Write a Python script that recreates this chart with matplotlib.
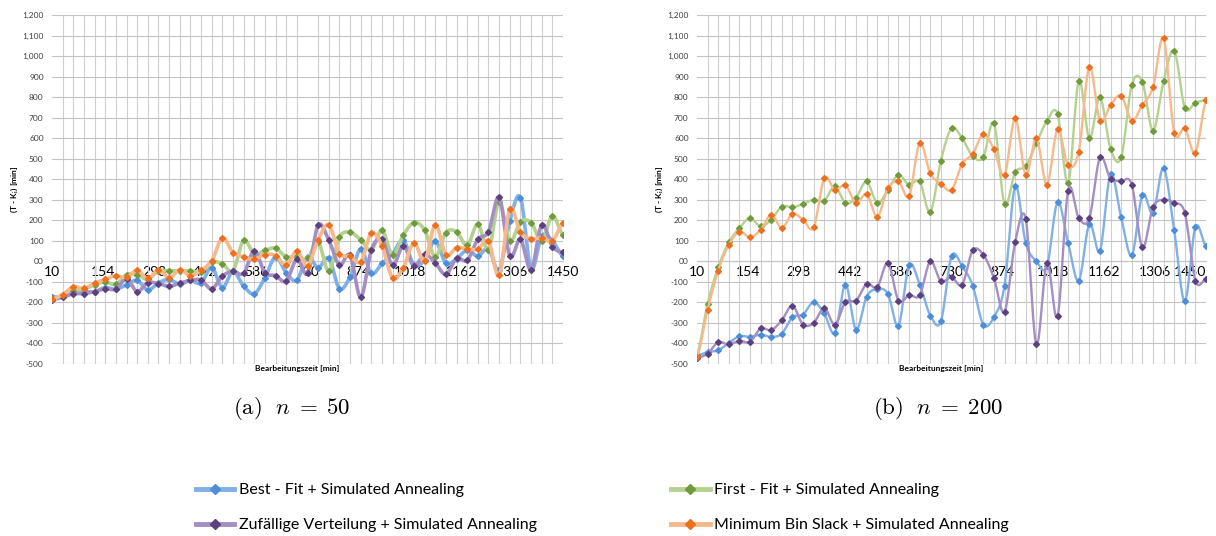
import numpy as np
import matplotlib.pyplot as plt
from matplotlib.lines import Line2D

plt.rcParams['font.family'] = ['Lato', 'DejaVu Sans']
plt.rcParams['mathtext.fontset'] = 'cm'

# processing time axis (categories) and tick labels
x_vals = np.arange(10, 1451, 30)
x_ticks = [10, 154, 298, 442, 586, 730, 874, 1018, 1162, 1306, 1450]
y_ticks = list(range(-500, 1201, 100))
y_tick_labels = ['-500', '-400', '-300', '-200', '-100', '00', '100', '200', '300',
                 '400', '500', '600', '700', '800', '900', '1,000', '1,100', '1,200']

names = ['Best - Fit + Simulated Annealing',
         'First - Fit + Simulated Annealing',
         'Zufällige Verteilung + Simulated Annealing',
         'Minimum Bin Slack + Simulated Annealing']
line_colors = ['#7FB0E6', '#B4D28E', '#A48EC3', '#F8B98A']
marker_colors = ['#4C8ED8', '#6F9B3C', '#5C4080', '#EC7020']

# n = 50
blue50 = [-175, -170, -150, -148, -148, -128, -136, -114, -93, -140,
          -105, -88, -112, -93, -106, -30, -128, -49, -121, -158,
          -80, 22, -56, -92, 23, -30, 15, -133, -75, 60,
          -59, -10, 38, 103, -18, 8, 100, -10, 13, 54,
          25, 62, -44, 195, 311, -37, 125, 100, 25]
green50 = [-180, -165, -142, -137, -113, -100, -112, -65, -65, -88,
           -46, -46, -47, -46, -52, -3, -12, -45, 102, 35,
           53, 64, 22, 25, 15, 95, -48, 118, 141, 105,
           55, 152, 30, 128, 189, 152, 22, 140, 144, 78,
           181, 57, 290, 99, 193, 189, 99, 221, 128]
purple50 = [-186, -175, -158, -157, -147, -134, -135, -85, -147, -104,
            -108, -122, -106, -93, -91, -134, -72, -48, -59, 52,
            -55, -70, -96, 10, -57, 176, 103, -18, 30, -175,
            55, 107, -19, 75, -23, 34, -8, -64, 15, 5,
            107, 145, 312, 26, 107, -41, 178, 72, 44]
orange50 = [-185, -162, -124, -132, -106, -88, -70, -78, -43, -83,
            -42, -80, -42, -69, -43, 1, 114, 43, 22, 10,
            33, 28, -20, 50, -22, 105, 178, 38, 26, -2,
            138, 75, -82, -30, 90, 0, 178, 32, 67, 60,
            60, 97, -68, 255, 142, 110, 115, 100, 187]

# n = 200
blue200 = [-459, -442, -433, -397, -365, -368, -357, -368, -352, -272,
           -259, -199, -254, -348, -113, -332, -172, -135, -158, -313,
           -19, -113, -264, -292, 24, -24, -118, -308, -272, -118,
           365, 89, 0, -24, 288, 89, -94, 182, 52, 426,
           214, 29, 324, 235, 454, 151, -194, 167, 73]
green200 = [-454, -206, -29, 92, 162, 211, 170, 203, 267, 263,
            280, 300, 295, 365, 284, 311, 389, 284, 348, 421,
            373, 389, 240, 491, 648, 600, 511, 507, 673, 280,
            433, 465, 575, 684, 718, 381, 878, 600, 799, 548,
            507, 859, 875, 637, 878, 1026, 749, 773, 786]
purple200 = [-470, -449, -394, -405, -387, -392, -327, -335, -287, -216,
             -308, -300, -227, -308, -198, -191, -110, -126, -8, -191,
             -164, -165, 0, -97, -76, -113, 53, 32, -81, -246,
             92, 206, -405, -8, -267, 345, 211, 211, 506, 402,
             392, 373, 68, 264, 300, 284, 235, -94, -86]
orange200 = [-465, -235, -45, 81, 144, 117, 154, 227, 162, 232,
             203, 165, 405, 348, 370, 284, 327, 217, 357, 389,
             319, 575, 429, 378, 348, 475, 523, 619, 546, 421,
             697, 421, 600, 373, 643, 467, 535, 948, 684, 762,
             806, 686, 762, 848, 1086, 627, 648, 530, 786]


def smooth(x, y, n=16):
    # Catmull-Rom style curve like Excel's "smoothed line"
    x = np.asarray(x, float)
    y = np.asarray(y, float)
    yp = np.concatenate([[y[0]], y, [y[-1]]])
    m = (yp[2:] - yp[:-2]) / 2.0
    xs, ys = [], []
    t = np.linspace(0, 1, n, endpoint=False)
    h00 = 2 * t**3 - 3 * t**2 + 1
    h10 = t**3 - 2 * t**2 + t
    h01 = -2 * t**3 + 3 * t**2
    h11 = t**3 - t**2
    for i in range(len(x) - 1):
        xs.append(x[i] + t * (x[i + 1] - x[i]))
        ys.append(h00 * y[i] + h10 * m[i] + h01 * y[i + 1] + h11 * m[i + 1])
    xs.append([x[-1]])
    ys.append([y[-1]])
    return np.concatenate(xs), np.concatenate(ys)


def draw(ax, series, lw):
    for k, vals in enumerate(series):
        xs, ys = smooth(x_vals, vals)
        ax.plot(xs, ys, color=line_colors[k], lw=lw, zorder=3 + k)
        ax.plot(x_vals, vals, ls='none', marker='D', ms=3.0,
                color=marker_colors[k], zorder=3 + k)
    ax.set_xlim(10, 1450)
    ax.set_ylim(-500, 1200)
    ax.set_yticks(y_ticks)
    ax.set_yticklabels(y_tick_labels, fontsize=6, color='#404040')
    ax.set_xticks(x_ticks)
    ax.set_xticklabels([str(v) for v in x_ticks], fontsize=6, color='#404040')
    ax.set_xticks(x_vals, minor=True)
    ax.grid(axis='x', which='minor', color='#CFCFCF', lw=0.8, zorder=0)
    ax.grid(axis='y', which='major', color='#C4C4C4', lw=0.8, zorder=0)
    for s in ['top', 'right', 'left']:
        ax.spines[s].set_visible(False)
    ax.spines['bottom'].set_position(('data', 0))
    ax.spines['bottom'].set_color('#C4C4C4')
    ax.tick_params(axis='both', which='both', length=0)
    ax.tick_params(axis='x', pad=3)
    ax.tick_params(axis='y', pad=6)
    ax.set_ylabel(r'(T - K$_\mathbf{i}$) [min]', fontsize=6, fontweight='bold')
    ax.yaxis.set_label_coords(-32 / 511, 0.5)
    ax.set_xlabel('Bearbeitungszeit [min]', fontsize=6, fontweight='bold')
    ax.xaxis.set_label_coords(0.48, -0.004)


fig = plt.figure(figsize=(12.16, 5.36), dpi=100)
ax1 = fig.add_axes([52 / 1216, 1 - 364 / 536, 511 / 1216, 349 / 536])
ax2 = fig.add_axes([697 / 1216, 1 - 364 / 536, 509 / 1216, 349 / 536])
draw(ax1, [blue50, green50, purple50, orange50], 2.6)
draw(ax2, [blue200, green200, purple200, orange200], 1.7)
# keep the last category label inside the figure
ax2.get_xticklabels()[-1].set_horizontalalignment('right')

fig.text(292 / 1216, 1 - 408 / 536, r'$\mathrm{(a)}\ \ n\;=\;50$', fontsize=16.5,
         ha='center', va='center')
fig.text(938 / 1216, 1 - 408 / 536, r'$\mathrm{(b)}\ \ n\;=\;200$', fontsize=16.5,
         ha='center', va='center')

handles = [Line2D([], [], color=line_colors[k], lw=3.5, marker='D', ms=5,
                  mfc=marker_colors[k], mec=marker_colors[k]) for k in range(4)]
order = [0, 2, 1, 3]
fig.legend([handles[k] for k in order], [names[k] for k in order], ncol=2,
           loc='upper left', bbox_to_anchor=(196 / 1216, 1 - 483 / 536),
           frameon=False, fontsize=11.5, handlelength=2.4, handletextpad=0.3,
           columnspacing=8.4, labelspacing=1.3, borderpad=0, borderaxespad=0)

fig.savefig('out.png', dpi=100)
